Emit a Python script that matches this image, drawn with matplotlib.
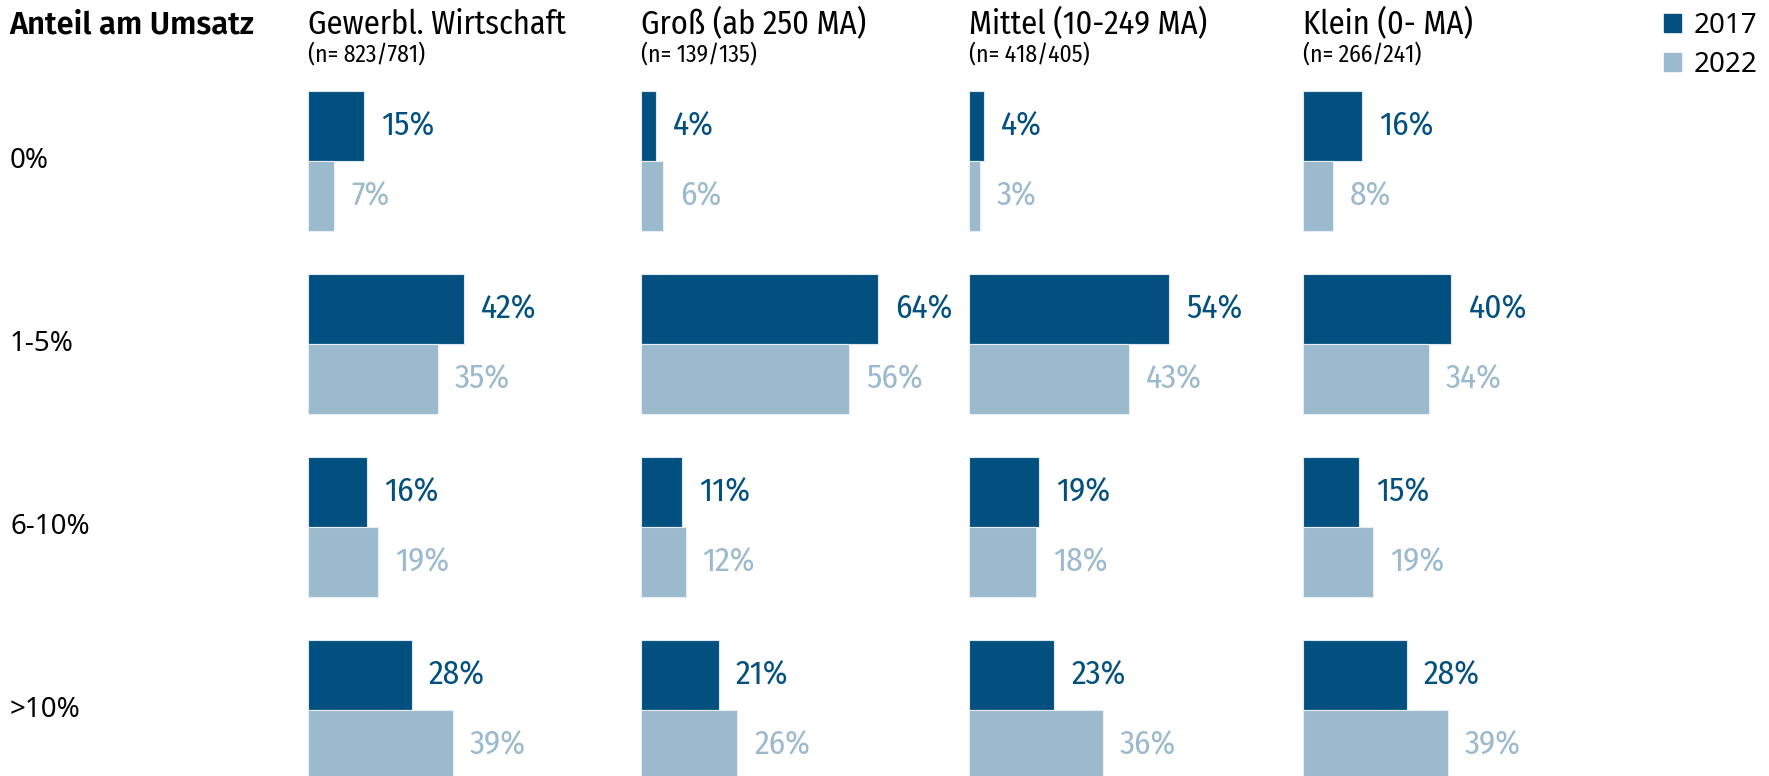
import matplotlib
matplotlib.use("Agg")
import matplotlib.pyplot as plt
from matplotlib import font_manager
from matplotlib.patches import Patch
from matplotlib.transforms import blended_transform_factory

# ---- data ----
groups = ["Gewerbl. Wirtschaft", "Groß (ab 250 MA)", "Mittel (10-249 MA)", "Klein (0- MA)"]
group_n = ["(n= 823/781)", "(n= 139/135)", "(n= 418/405)", "(n= 266/241)"]
categories = ["0%", "1-5%", "6-10%", ">10%"]
years = ["2017", "2022"]
v2017 = [
    [15, 42, 16, 28],
    [4, 64, 11, 21],
    [4, 54, 19, 23],
    [16, 40, 15, 28],
]
v2022 = [
    [7, 35, 19, 39],
    [6, 56, 12, 26],
    [3, 43, 18, 36],
    [8, 34, 19, 39],
]

DARK = "#02507f"
LIGHT = "#9bbacd"

names = {f.name for f in font_manager.fontManager.ttflist}


def pick(*cands):
    for c in cands:
        if c in names:
            return c
    return "DejaVu Sans"


COND = pick("Fira Sans Condensed", "PT Sans Narrow", "Roboto Condensed", "Liberation Sans")
BOLDF = pick("Fira Sans", "Open Sans", "Liberation Sans")
ROWF = pick("Noto Sans", "Open Sans", "DejaVu Sans")

W, H = 1769, 776
fig = plt.figure(figsize=(W / 100, H / 100), dpi=100)

group_left = [308, 641, 969, 1303]
px_per_pct = 3.71
ax_w = 300
pitch = 182.8
top = 70
bar_h = 70 / pitch

axes = []
for g in range(4):
    ax = fig.add_axes([group_left[g] / W, (H - (top + 4 * pitch)) / H, ax_w / W, 4 * pitch / H])
    ax.set_xlim(0, ax_w / px_per_pct)
    ax.set_ylim(3.5, -0.5)
    ax.axis("off")
    ys = list(range(len(categories)))
    y1 = [y - bar_h / 2 for y in ys]
    y2 = [y + bar_h / 2 for y in ys]
    ax.barh(y1, v2017[g], height=bar_h, color=DARK, edgecolor="#dde7ee", linewidth=0.8, clip_on=False)
    ax.barh(y2, v2022[g], height=bar_h, color=LIGHT, edgecolor="#e6eef3", linewidth=0.8, clip_on=False)
    for y, v in zip(y1, v2017[g]):
        ax.annotate(f"{v}%", (v, y), xytext=(17, 0), textcoords="offset pixels",
                    va="center", ha="left", color=DARK, fontsize=24, family=COND)
    for y, v in zip(y2, v2022[g]):
        ax.annotate(f"{v}%", (v, y), xytext=(17, 0), textcoords="offset pixels",
                    va="center", ha="left", color=LIGHT, fontsize=24, family=COND)
    fig.text(group_left[g] / W, 1 - 34 / H, groups[g], fontsize=23.3, family=COND, va="baseline", ha="left")
    fig.text(group_left[g] / W, 1 - 62 / H, group_n[g], fontsize=17, family=COND, va="baseline", ha="left")
    axes.append(ax)

tr = blended_transform_factory(fig.transFigure, axes[0].transData)
for i, c in enumerate(categories):
    axes[0].text(10 / W, i, c, transform=tr, fontsize=20, family=ROWF, va="center", ha="left")

fig.text(9 / W, 1 - 34 / H, "Anteil am Umsatz", fontsize=22.3, family=BOLDF, weight="semibold",
         va="baseline", ha="left")

handles = [Patch(color=DARK), Patch(color=LIGHT)]
fig.legend(handles, years, loc="upper left", bbox_to_anchor=(1664 / W, 1 - 12 / H), frameon=False,
           prop={"family": ROWF, "size": 20}, handlelength=0.6, handleheight=0.6,
           handletextpad=0.45, labelspacing=0.38, borderaxespad=0, borderpad=0)

fig.savefig("out.png", dpi=100)
